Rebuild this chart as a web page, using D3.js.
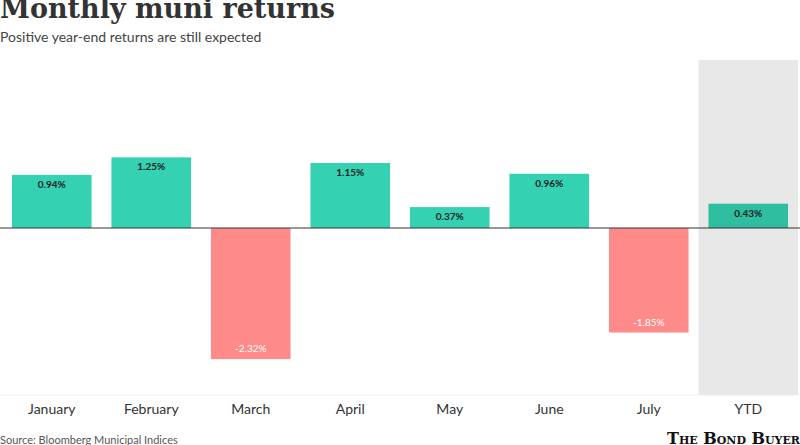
<!DOCTYPE html>
<html><head><meta charset="utf-8">
<script src="https://cdn.jsdelivr.net/npm/d3@7"></script>
<style>body{margin:0;background:#fff}svg{display:block}</style>
</head><body>
<svg id="chart" width="800" height="445"></svg>
<script>
// data
var months = ['January','February','March','April','May','June','July','YTD'];
var returns = [0.94, 1.25, -2.32, 1.15, 0.37, 0.96, -1.85, 0.43];

var svg = d3.select('#chart'),
    zeroY = 228,
    pxPerPct = 56.5;

var x = d3.scaleBand().domain(months).range([2, 798]).paddingInner(0.2).paddingOuter(0.1);
var y = d3.scaleLinear().domain([0, 1]).range([zeroY, zeroY - pxPerPct]);

// title + subtitle
svg.append('text').attr('x', 0).attr('y', 18)
    .style('font-family', 'DejaVu Serif, serif').style('font-size', '27px')
    .style('font-weight', 'bold').attr('fill', '#333').text('Monthly muni returns');
svg.append('text').attr('x', 0).attr('y', 42)
    .style('font-family', 'Lato, sans-serif').style('font-size', '14px')
    .attr('fill', '#444').text('Positive year-end returns are still expected');

// ytd highlight
svg.append('rect').attr('x', x('YTD') - x.step() * 0.1).attr('y', 60)
    .attr('width', x.step()).attr('height', 335).attr('fill', '#e8e8e8');

// bottom gridline
svg.append('line').attr('x1', 0).attr('x2', 800).attr('y1', 395).attr('y2', 395)
    .attr('stroke', '#eee');

// bars
svg.selectAll('rect.bar').data(months).enter().append('rect').classed('bar', true)
    .attr('x', function(d) { return x(d); })
    .attr('width', x.bandwidth())
    .attr('y', function(d, i) { return Math.min(y(returns[i]), zeroY); })
    .attr('height', function(d, i) { return Math.abs(y(returns[i]) - zeroY); })
    .attr('fill', function(d, i) { return d == 'YTD' ? '#2fbea0' : (returns[i] < 0 ? '#ff8a8a' : '#34d1b2'); });

// zero line
svg.append('line').attr('x1', 0).attr('x2', 800).attr('y1', zeroY).attr('y2', zeroY)
    .attr('stroke', '#333').attr('stroke-width', 1);

// value labels
svg.selectAll('text.val').data(months).enter().append('text').classed('val', true)
    .attr('x', function(d) { return x(d) + x.bandwidth() / 2; })
    .attr('y', function(d, i) { return returns[i] < 0 ? y(returns[i]) - 7 : y(returns[i]) + 13; })
    .attr('text-anchor', 'middle')
    .style('font-family', 'Lato, sans-serif').style('font-size', '10px')
    .style('font-weight', function(d, i) { return returns[i] < 0 ? 'normal' : 'bold'; })
    .attr('fill', function(d, i) { return returns[i] < 0 ? '#fff' : '#222'; })
    .text(function(d, i) { return returns[i].toFixed(2) + '%'; });

// month labels
svg.selectAll('text.cat').data(months).enter().append('text').classed('cat', true)
    .attr('x', function(d) { return x(d) + x.bandwidth() / 2; })
    .attr('y', 414).attr('text-anchor', 'middle')
    .style('font-family', 'Lato, sans-serif').style('font-size', '14px')
    .attr('fill', '#333').text(function(d) { return d; });

// footer
svg.append('text').attr('x', 0).attr('y', 444)
    .style('font-family', 'Lato, sans-serif').style('font-size', '11px')
    .attr('fill', '#555').text('Source: Bloomberg Municipal Indices');
svg.append('text').attr('x', 800).attr('y', 444).attr('text-anchor', 'end')
    .style('font-family', 'DejaVu Serif, serif').style('font-size', '16px')
    .style('font-weight', 'bold').style('font-variant', 'small-caps')
    .attr('fill', '#111').text('The Bond Buyer');
</script>
</body></html>
